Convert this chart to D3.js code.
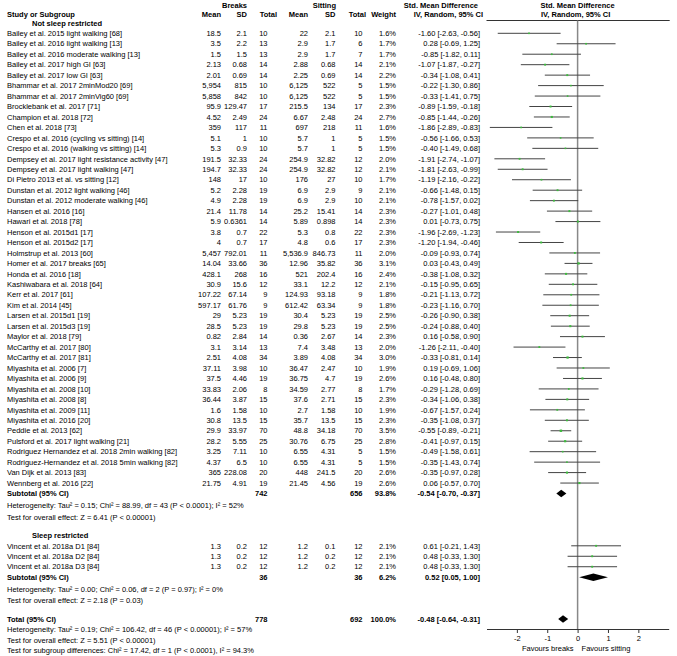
<!DOCTYPE html>
<html>
<head>
<meta charset="utf-8">
<script src="https://cdn.jsdelivr.net/npm/d3@7"></script>
<style>
  html, body { margin: 0; padding: 0; background: #fff; }
  svg { display: block; font-family: "Liberation Sans", Arial, sans-serif; font-size: 7.5px; }
  .b { font-weight: bold; }
</style>
</head>
<body>
<script>
// study level data (first 44 not sleep restricted, last 3 sleep restricted)
const studies = [
  "Bailey et al. 2015 light walking [68]", "Bailey et al. 2016 light walking [13]",
  "Bailey et al. 2016 moderate walking [13]", "Bailey et al. 2017 high GI [63]",
  "Bailey et al. 2017 low GI [63]", "Bhammar et al. 2017 2minMod20 [69]",
  "Bhammar et al. 2017 2minVig60 [69]", "Brocklebank et al. 2017 [71]",
  "Champion et al. 2018 [72]", "Chen et al. 2018 [73]",
  "Crespo et al. 2016 (cycling vs sitting) [14]", "Crespo et al. 2016 (walking vs sitting) [14]",
  "Dempsey et al. 2017 light resistance activity [47]", "Dempsey et al. 2017 light walking [47]",
  "Di Pietro 2013 et al. vs sitting [12]", "Dunstan et al. 2012 light walking [46]",
  "Dunstan et al. 2012 moderate walking [46]", "Hansen et al. 2016 [16]",
  "Hawari et al. 2018 [78]", "Henson et al. 2015d1 [17]",
  "Henson et al. 2015d2 [17]", "Holmstrup et al. 2013 [60]",
  "Homer et al. 2017 breaks [65]", "Honda et al. 2016  [18]",
  "Kashiwabara et al. 2018 [64]", "Kerr et al. 2017 [61]",
  "Kim et al. 2014 [45]", "Larsen et al. 2015d1 [19]",
  "Larsen et al. 2015d3 [19]", "Maylor et al. 2018 [79]",
  "McCarthy et al. 2017 [80]", "McCarthy et al. 2017 [81]",
  "Miyashita et al. 2006 [7]", "Miyashita et al. 2006 [9]",
  "Miyashita et al. 2008 [10]", "Miyashita et al. 2008 [8]",
  "Miyashita et al. 2009 [11]", "Miyashita et al. 2016 [20]",
  "Peddie et al. 2013 [62]", "Pulsford et al. 2017 light walking [21]",
  "Rodriguez Hernandez et al. 2018 2min walking [82]", "Rodriguez-Hernandez et al. 2018 5min walking [82]",
  "Van Dijk et al. 2013 [83]", "Wennberg et al. 2016 [22]",
  "Vincent et al. 2018a D1 [84]", "Vincent et al. 2018a D2 [84]", "Vincent et al. 2018a D3 [84]"
];
const breaksMean = [18.5, 3.5, 1.5, 2.13, 2.01, 5954, 5858, 95.9, 4.52, 359, 5.1, 5.3, 191.5, 194.7, 148, 5.2, 4.9,
  21.4, 5.9, 3.8, 4, 5457, 14.04, 428.1, 30.9, 107.22, 597.17, 29, 28.5, 0.82, 3.1, 2.51, 37.11, 37.5, 33.83,
  36.44, 1.6, 30.8, 29.9, 28.2, 3.25, 4.37, 365, 21.75, 1.3, 1.3, 1.3];
const breaksSD = [2.1, 2.2, 1.5, 0.68, 0.69, 815, 842, 129.47, 2.49, 117, 1, 0.9, 32.33, 32.33, 17, 2.28, 2.28,
  11.78, 0.6361, 0.7, 0.7, 792.01, 33.66, 268, 15.6, 67.14, 61.76, 5.23, 5.23, 2.84, 3.14, 4.08, 3.98, 4.46, 2.06,
  3.87, 1.58, 13.5, 33.97, 5.55, 7.11, 6.5, 228.08, 4.91, 0.2, 0.2, 0.2];
const breaksN = [10, 13, 13, 14, 14, 10, 10, 17, 24, 11, 10, 10, 24, 24, 10, 19, 19, 14, 14, 22, 17, 11, 36, 16,
  12, 9, 9, 19, 19, 14, 13, 34, 10, 19, 8, 15, 10, 15, 70, 25, 10, 10, 20, 19, 12, 12, 12];
const sittingMean = [22, 2.9, 2.9, 2.88, 2.25, 6125, 6125, 215.5, 6.67, 697, 5.7, 5.7, 254.9, 254.9, 176, 6.9, 6.9,
  25.2, 5.89, 5.3, 4.8, 5536.9, 12.96, 521, 33.1, 124.93, 612.42, 30.4, 29.8, 0.36, 7.4, 3.89, 36.47, 36.75, 34.59,
  37.6, 2.7, 35.7, 48.8, 30.76, 6.55, 6.55, 448, 21.45, 1.2, 1.2, 1.2];
const sittingSD = [2.1, 1.7, 1.7, 0.68, 0.69, 522, 522, 134, 2.48, 218, 1, 1, 32.82, 32.82, 27, 2.9, 2.9,
  15.41, 0.898, 0.8, 0.6, 846.73, 35.82, 202.4, 12.2, 93.18, 63.34, 5.23, 5.23, 2.67, 3.48, 4.08, 2.47, 4.7, 2.77,
  2.71, 1.58, 13.5, 34.18, 6.75, 4.31, 4.31, 241.5, 4.56, 0.1, 0.2, 0.2];
const sittingN = [10, 6, 7, 14, 14, 5, 5, 17, 24, 11, 5, 5, 12, 12, 10, 9, 10, 14, 14, 22, 17, 11, 36, 16,
  12, 9, 9, 19, 19, 14, 13, 34, 10, 19, 8, 15, 10, 15, 70, 25, 5, 5, 20, 19, 12, 12, 12];
const weight = [1.6, 1.7, 1.7, 2.1, 2.2, 1.5, 1.5, 2.3, 2.7, 1.6, 1.5, 1.5, 2.0, 2.1, 1.7, 2.1, 2.1, 2.3, 2.3, 2.3,
  2.3, 2.0, 3.1, 2.4, 2.1, 1.8, 1.8, 2.5, 2.5, 2.3, 2.0, 3.0, 1.9, 2.6, 1.7, 2.3, 1.9, 2.3, 3.5, 2.8, 1.5, 1.5,
  2.6, 2.6, 2.1, 2.1, 2.1];
const smd = [-1.60, 0.28, -0.85, -1.07, -0.34, -0.22, -0.33, -0.89, -0.85, -1.86, -0.56, -0.40, -1.91, -1.81, -1.19,
  -0.66, -0.78, -0.27, 0.01, -1.96, -1.20, -0.09, 0.03, -0.38, -0.15, -0.21, -0.23, -0.26, -0.24, 0.16, -1.26,
  -0.33, 0.19, 0.16, -0.29, -0.34, -0.67, -0.35, -0.55, -0.41, -0.49, -0.35, -0.35, 0.06, 0.61, 0.48, 0.48];
const ciLow = [-2.63, -0.69, -1.82, -1.87, -1.08, -1.30, -1.41, -1.59, -1.44, -2.89, -1.66, -1.49, -2.74, -2.63, -2.16,
  -1.48, -1.57, -1.01, -0.73, -2.69, -1.94, -0.93, -0.43, -1.08, -0.95, -1.13, -1.16, -0.90, -0.88, -0.58, -2.11,
  -0.81, -0.69, -0.48, -1.28, -1.06, -1.57, -1.08, -0.89, -0.97, -1.58, -1.43, -0.97, -0.57, -0.21, -0.33, -0.33];
const ciHigh = [-0.56, 1.25, 0.11, -0.27, 0.41, 0.86, 0.75, -0.18, -0.26, -0.83, 0.53, 0.68, -1.07, -0.99, -0.22,
  0.15, 0.02, 0.48, 0.75, -1.23, -0.46, 0.74, 0.49, 0.32, 0.65, 0.72, 0.70, 0.38, 0.40, 0.90, -0.40,
  0.14, 1.06, 0.80, 0.69, 0.38, 0.24, 0.37, -0.21, 0.15, 0.61, 0.74, 0.28, 0.70, 1.43, 1.30, 1.30];

// subgroups
const groupNames = ["Not sleep restricted", "Sleep restricted"];
const groupSize = [44, 3];
const subBreaksN = [742, 36];
const subSittingN = [656, 36];
const subWeight = [93.8, 6.2];
const subSmd = [-0.54, 0.52];
const subLow = [-0.70, 0.05];
const subHigh = [-0.37, 1.00];
const subHet = [
  "Heterogeneity: Tau² = 0.15; Chi² = 88.99, df = 43 (P < 0.0001); I² = 52%",
  "Heterogeneity: Tau² = 0.00; Chi² = 0.06, df = 2 (P = 0.97); I² = 0%"
];
const subTest = [
  "Test for overall effect: Z = 6.41 (P < 0.00001)",
  "Test for overall effect: Z = 2.18 (P = 0.03)"
];

// overall
const total = { breaksN: 778, sittingN: 692, weight: 100.0, smd: -0.48, low: -0.64, high: -0.31 };
const totalNotes = [
  "Heterogeneity: Tau² = 0.19; Chi² = 106.42, df = 46 (P < 0.00001); I² = 57%",
  "Test for overall effect: Z = 5.51 (P < 0.00001)",
  "Test for subgroup differences: Chi² = 17.42, df = 1 (P < 0.0001), I² = 94.3%"
];
const xTicks = [-2, -1, 0, 1, 2];

const W = 677, H = 656;
let svg = d3.select("body").append("svg").attr("width", W).attr("height", H);

// scales
let x = d3.scaleLinear().domain([-3, 3]).range([486.5, 668.7]);
let row = d3.scaleLinear().domain([3, 62]).range([33.3, 650.4]);
let base = i => row(i) + 2.7;

// column positions (right edges)
let col = { bMean: 221, bSD: 247, bN: 267.5, sMean: 308, sSD: 335.5, sN: 362.5, weight: 396, ci: 480 };
let num = d3.format(",");
let f2 = v => v.toFixed(2);
let ciText = (m, l, h) => `${f2(m)} [${f2(l)}, ${f2(h)}]`;

let txt = (g, s, xp, yp, anchor, bold) => g.append("text")
  .attr("x", xp).attr("y", yp)
  .attr("text-anchor", anchor || "start")
  .attr("class", bold ? "b" : null)
  .attr("fill", "#000")
  .text(s);

// header
let head = svg.append("g").attr("class", "header");
txt(head, "Breaks", 247, 7.8, "end", true);
txt(head, "Sitting", 336, 7.8, "end", true);
txt(head, "Std. Mean Difference", 478, 7.8, "end", true);
txt(head, "Std. Mean Difference", x(0), 7.8, "middle", true);
txt(head, "Study or Subgroup", 7, 17.3, "start", true);
txt(head, "Mean", col.bMean, 17.3, "end", true);
txt(head, "SD", col.bSD, 17.3, "end", true);
txt(head, "Total", 277, 17.3, "end", true);
txt(head, "Mean", col.sMean, 17.3, "end", true);
txt(head, "SD", col.sSD, 17.3, "end", true);
txt(head, "Total", 366, 17.3, "end", true);
txt(head, "Weight", col.weight, 17.3, "end", true);
txt(head, "IV, Random, 95% CI", 483, 17.3, "end", true);
txt(head, "IV, Random, 95% CI", x(0) - 2, 17.3, "middle", true);
head.append("line")
  .attr("x1", x.range()[0]).attr("x2", x.range()[1] + 1)
  .attr("y1", 20.5).attr("y2", 20.5)
  .attr("stroke", "#333").attr("stroke-width", 1);

// zero line
svg.append("line")
  .attr("x1", x(0)).attr("x2", x(0))
  .attr("y1", 20.5).attr("y2", 629)
  .attr("stroke", "#888").attr("stroke-width", 1.5);

let table = svg.append("g").attr("class", "table");
let plot = svg.append("g").attr("class", "plot");

let diamond = (m, l, h, yc, hh) => plot.append("path")
  .attr("d", `M${x(l)},${yc}L${x(m)},${yc - hh}L${x(h)},${yc}L${x(m)},${yc + hh}Z`)
  .attr("fill", "#000");

// rows
let r = 2, start = 0;
groupNames.forEach((gname, gi) => {
  txt(table, gname, 32, base(r), "start", true);
  r++;
  for (let i = start; i < start + groupSize[gi]; i++) {
    let yb = base(r);
    txt(table, studies[i], 7, yb);
    txt(table, num(breaksMean[i]), col.bMean, yb, "end");
    txt(table, num(breaksSD[i]), col.bSD, yb, "end");
    txt(table, breaksN[i], col.bN, yb, "end");
    txt(table, num(sittingMean[i]), col.sMean, yb, "end");
    txt(table, num(sittingSD[i]), col.sSD, yb, "end");
    txt(table, sittingN[i], col.sN, yb, "end");
    txt(table, weight[i].toFixed(1) + "%", col.weight, yb, "end");
    txt(table, ciText(smd[i], ciLow[i], ciHigh[i]), col.ci, yb, "end");

    let yc = row(r);
    plot.append("line")
      .attr("x1", x(ciLow[i])).attr("x2", x(ciHigh[i]))
      .attr("y1", yc).attr("y2", yc)
      .attr("stroke", "#444").attr("stroke-width", 1);
    let s = 1.3 * Math.sqrt(weight[i]);
    plot.append("rect")
      .attr("x", x(smd[i]) - s / 2).attr("y", yc - s / 2)
      .attr("width", s).attr("height", s)
      .attr("fill", "#3dbb3d");
    r++;
  }
  start += groupSize[gi];

  // subtotal
  let yb = base(r);
  txt(table, "Subtotal (95% CI)", 7, yb, "start", true);
  txt(table, subBreaksN[gi], col.bN, yb, "end", true);
  txt(table, subSittingN[gi], col.sN, yb, "end", true);
  txt(table, subWeight[gi].toFixed(1) + "%", col.weight, yb, "end", true);
  txt(table, ciText(subSmd[gi], subLow[gi], subHigh[gi]), col.ci, yb, "end", true);
  diamond(subSmd[gi], subLow[gi], subHigh[gi], row(r), 3.8);
  r++;
  txt(table, subHet[gi], 7, base(r) + 1.5);
  r++;
  txt(table, subTest[gi], 7, base(r) + 2.5);
  r += 2;
});

// total
let yb = base(r);
txt(table, "Total (95% CI)", 7, yb, "start", true);
txt(table, total.breaksN, col.bN, yb, "end", true);
txt(table, total.sittingN, col.sN, yb, "end", true);
txt(table, total.weight.toFixed(1) + "%", col.weight, yb, "end", true);
txt(table, ciText(total.smd, total.low, total.high), col.ci, yb, "end", true);
diamond(total.smd, total.low, total.high, row(r), 3.8);
r++;
totalNotes.forEach(t => { txt(table, t, 7, base(r)); r++; });

// axis
let axis = d3.axisBottom(x).tickValues(xTicks).tickSize(4).tickSizeOuter(0).tickFormat(d => String(d));
let ax = svg.append("g").attr("class", "axis")
  .attr("transform", "translate(0, 629)")
  .call(axis);
ax.select(".domain").attr("stroke", "#333");
ax.selectAll(".tick line").attr("stroke", "#333");
ax.selectAll(".tick text").attr("fill", "#000")
  .style("font-family", "'Liberation Sans', Arial, sans-serif").style("font-size", "7.5px");

txt(svg, "Favours breaks", x(0) - 4, 651, "end");
txt(svg, "Favours sitting", x(0) + 4, 651, "start");
</script>
</body>
</html>
